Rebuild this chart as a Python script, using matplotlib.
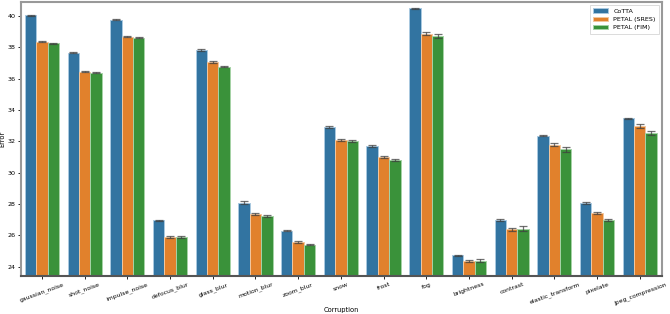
import numpy as np
import matplotlib
matplotlib.use("Agg")
import matplotlib.pyplot as plt

categories = ["gaussian_noise", "shot_noise", "impulse_noise", "defocus_blur", "glass_blur",
              "motion_blur", "zoom_blur", "snow", "frost", "fog", "brightness", "contrast",
              "elastic_transform", "pixelate", "jpeg_compression"]
methods = ["CoTTA", "PETAL (SRES)", "PETAL (FIM)"]

cotta = [40.06, 37.66, 39.77, 26.95, 37.84, 28.08, 26.30, 32.93, 31.70, 40.49, 24.72, 27.00, 32.34, 28.08, 33.46]
sres  = [38.36, 36.44, 38.68, 25.90, 37.06, 27.36, 25.57, 32.09, 31.02, 38.87, 24.38, 26.37, 31.79, 27.40, 32.98]
fim   = [38.26, 36.39, 38.60, 25.90, 36.77, 27.25, 25.40, 32.02, 30.82, 38.74, 24.38, 26.42, 31.49, 26.96, 32.53]

cotta_err = [0.03, 0.03, 0.05, 0.05, 0.07, 0.10, 0.05, 0.05, 0.05, 0.05, 0.05, 0.07, 0.03, 0.07, 0.05]
sres_err  = [0.03, 0.03, 0.03, 0.07, 0.05, 0.05, 0.07, 0.07, 0.07, 0.10, 0.07, 0.12, 0.07, 0.07, 0.10]
fim_err   = [0.03, 0.03, 0.03, 0.07, 0.03, 0.07, 0.03, 0.05, 0.07, 0.12, 0.10, 0.15, 0.15, 0.07, 0.12]

colors = ["#3274a1", "#e1812c", "#3a923a"]
edge = ["#a9c9e0", "#f3c79e", "#a6d3a6"]

fig = plt.figure(figsize=(6.7, 3.14), dpi=100)
ax = fig.add_axes([0.032, 0.121, 0.956, 0.873])

x = np.arange(len(categories))
w = 0.8 / 3
series = [cotta, sres, fim]
errs = [cotta_err, sres_err, fim_err]
for i, (vals, er) in enumerate(zip(series, errs)):
    pos = x + (i - 1) * w
    ax.bar(pos, vals, width=w, color=colors[i], edgecolor=edge[i], linewidth=0.7, label=methods[i], zorder=2)
    ax.errorbar(pos, vals, yerr=er, fmt="none", ecolor="#404040", alpha=0.75,
                elinewidth=0.9, capsize=3, capthick=0.9, zorder=3)

ax.set_xlim(-0.48, 14.52)
ax.set_ylim(23.4, 40.9)
ax.set_yticks(np.arange(24, 41, 2))
ax.set_xticks(x)
ax.set_xticklabels(categories, rotation=20, fontsize=4.4)
ax.tick_params(axis="y", labelsize=4.6, length=2.5, width=0.6, pad=1.5)
ax.tick_params(axis="x", length=2.5, width=0.6, pad=1.5)
ax.set_xlabel("Corruption", fontsize=4.8)
ax.set_ylabel("Error", fontsize=4.8)
ax.xaxis.set_label_coords(0.5, -0.113)
ax.yaxis.set_label_coords(-0.025, 0.5)
for s in ax.spines.values():
    s.set_color("#999999")
    s.set_linewidth(1.5)
ax.spines["bottom"].set_color("#555555")

leg = ax.legend(loc="upper right", fontsize=4.6, frameon=True, fancybox=False,
                handlelength=2.4, handleheight=0.7, borderpad=0.5, labelspacing=0.45)
leg.get_frame().set_edgecolor("#cccccc")
leg.get_frame().set_linewidth(0.6)

fig.savefig("out.png", dpi=100)
